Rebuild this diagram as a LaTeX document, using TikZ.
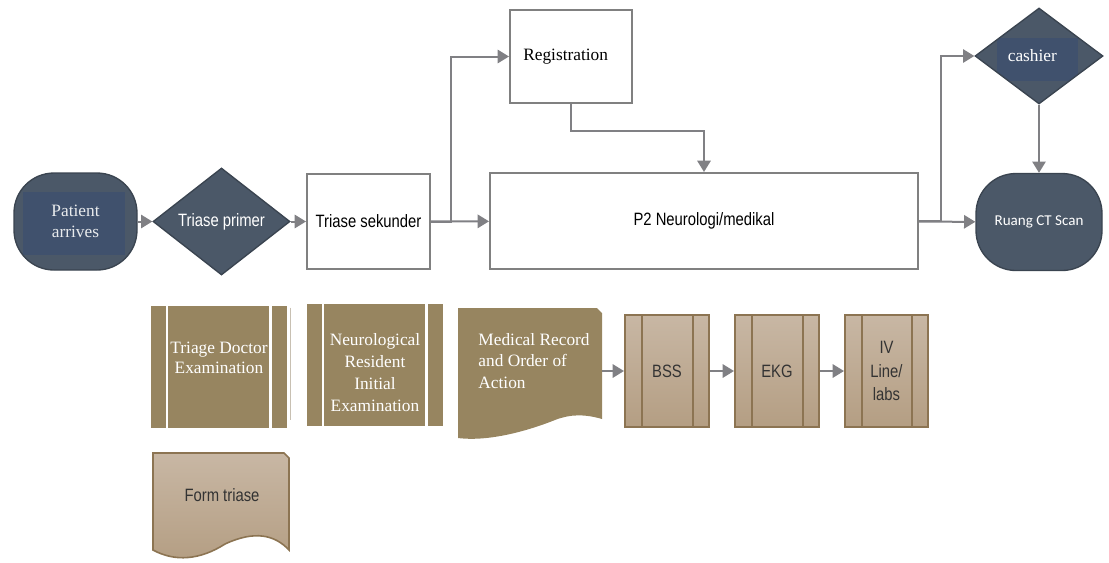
\documentclass[tikz,border=0pt]{standalone}
\usepackage{fontspec}
\setmainfont{Liberation Serif}
\newfontfamily\narrowsf[FakeStretch=0.83]{Liberation Sans}
\newfontfamily\calibrisf{Carlito}
\usetikzlibrary{positioning,shapes.geometric,arrows.meta}

\definecolor{slate}{RGB}{75,88,104}
\definecolor{slateedge}{RGB}{58,68,80}
\definecolor{panelblue}{RGB}{64,81,109}
\definecolor{flowgray}{RGB}{128,128,132}
\definecolor{boxgray}{RGB}{128,128,128}
\definecolor{docolive}{RGB}{151,133,96}
\definecolor{tanlight}{RGB}{200,183,164}
\definecolor{tandark}{RGB}{180,158,131}
\definecolor{tanedge}{RGB}{140,116,82}
\definecolor{paletan}{RGB}{200,192,178}

\newcommand\serifmid{\fontsize{13}{15.5}\selectfont}
\newcommand\sansmid{\narrowsf\fontsize{13.4}{17.5}\selectfont}

\tikzset{
  flow/.style={draw=flowgray, line width=1.5pt, -{Triangle[length=8.5pt,width=10pt]}},
  terminal/.style={rounded corners=30pt, fill=slate, draw=slateedge, line width=1pt,
    minimum width=92.25pt, minimum height=72.75pt, text=white, align=center},
  decision/.style={diamond, aspect=1.28, inner sep=0pt, fill=slate, draw=slateedge,
    line width=1pt, text=white, align=center},
  process/.style={rectangle, draw=boxgray, fill=white, line width=1.5pt, align=center},
  innerpanel/.style n args={4}{path picture={
    \fill[panelblue, sharp corners] ([shift={(#1,#2)}]path picture bounding box.north west)
      rectangle ([shift={(#3,#4)}]path picture bounding box.south east);}},
  olivebar/.style={rectangle, fill=docolive, minimum width=102pt, minimum height=91.5pt,
    path picture={
    \draw[white, line width=2pt]
      ([xshift=12pt]path picture bounding box.north west) -- ([xshift=12pt]path picture bounding box.south west)
      ([xshift=-12.3pt]path picture bounding box.north east) -- ([xshift=-12.3pt]path picture bounding box.south east);}},
  tanbar/.style={rectangle, top color=tanlight, bottom color=tandark, draw=tanedge,
    line width=1.5pt, minimum width=63pt, minimum height=84pt, font=\sansmid,
    text=black!80, align=center,
    path picture={
    \draw[tanedge, line width=1.1pt]
      ([xshift=12.75pt]path picture bounding box.north west) -- ([xshift=12.75pt]path picture bounding box.south west)
      ([xshift=-12pt]path picture bounding box.north east) -- ([xshift=-12pt]path picture bounding box.south east);}},
  lighttext/.style={text=white, font=\serifmid, align=center}
}

\begin{document}
\begin{tikzpicture}[x=0.75pt, y=-0.75pt]
  \useasboundingbox (0,0) rectangle (1109,562);

  \node[terminal, innerpanel={9}{19}{-12}{-15}, font=\serifmid, text=white!88!slate] (pat) at (75.5,221.5) {Patient\\arrives};
  \node[decision, minimum width=102.75pt, minimum height=80.25pt, font=\sansmid] (tpr) at (221.5,221.5) {Triase primer};
  \node[process, minimum width=92.25pt, minimum height=71.25pt, font=\sansmid] (tsk) at (368.5,221.5) {Triase sekunder};
  \node[process, minimum width=321pt, minimum height=72pt, font=\sansmid] (p2) at (704,221) {P2 Neurologi/medikal};
  \node[process, minimum width=91.5pt, minimum height=69.75pt, font=\serifmid] (reg) at (571,56.5) {\hspace*{-8pt}Registration};
  \node[decision, minimum width=96pt, minimum height=72pt, innerpanel={22}{30}{-25}{-23}, font=\serifmid] (cash) at (1039,56) {\hspace*{-10pt}cashier};
  \node[terminal, minimum width=94.5pt, font=\calibrisf\fontsize{11.3}{13}\selectfont] (rct) at (1039,222) {Ruang CT Scan};

  \draw[flow] (pat) -- (tpr);
  \draw[flow] (tpr) -- (tsk);
  \draw[flow] (tsk) -- (p2);
  \draw[flow] (tsk.east) -- ++(20,0) |- (reg);
  \draw[flow] (reg.south) -- ++(0,27) -| (p2.north);
  \draw[flow] (p2) -- (rct);
  \draw[flow] (p2.east) -- ++(22,0) |- (cash);
  \draw[flow] (cash) -- (rct);

  \node[olivebar, label={[lighttext, yshift=6.75pt]center:{Triage Doctor\\Examination}}] (tde) at (219,367) {};
  \draw[paletan, line width=0.7pt] ([xshift=2.25pt,yshift=-1.5pt]tde.north east) -- ([xshift=2.25pt,yshift=6pt]tde.south east);
  \node[olivebar, label={[lighttext, yshift=-5.6pt, font=\fontsize{13}{16.3}\selectfont]center:{Neurological\\Resident\\Initial\\Examination}}] (nre) at (375,365) {};

  \fill[docolive] (458,308) -- (597,308) -- (602,313) -- (602,419)
    .. controls (585,414) and (570,414) .. (555,420)
    .. controls (530,430) and (490,442) .. (458,438) -- cycle;
  \node[lighttext, align=left, font=\fontsize{13}{16}\selectfont] (mro) at (534,361) {Medical Record\\and Order of\\Action};
  \coordinate (mro-out) at (602,371);

  \node[tanbar] (bss) at (667,371) {BSS};
  \node[tanbar, right=18pt of bss] (ekg) {EKG};
  \node[tanbar, minimum width=62.25pt, right=18pt of ekg] (iv) {IV\\Line/\\labs};

  \draw[flow] (mro-out) -- (bss);
  \draw[flow] (bss) -- (ekg);
  \draw[flow] (ekg) -- (iv);

  \draw[top color=tanlight, bottom color=tandark, draw=tanedge, line width=1.2pt]
    (153,453) -- (284,453) -- (289,458) -- (289,550)
    .. controls (275,535) and (255,530) .. (225,544)
    .. controls (200,560) and (175,562) .. (153,550) -- cycle;
  \node[font=\sansmid, text=black!80] (ftr) at (222,495) {Form triase};
\end{tikzpicture}
\end{document}
